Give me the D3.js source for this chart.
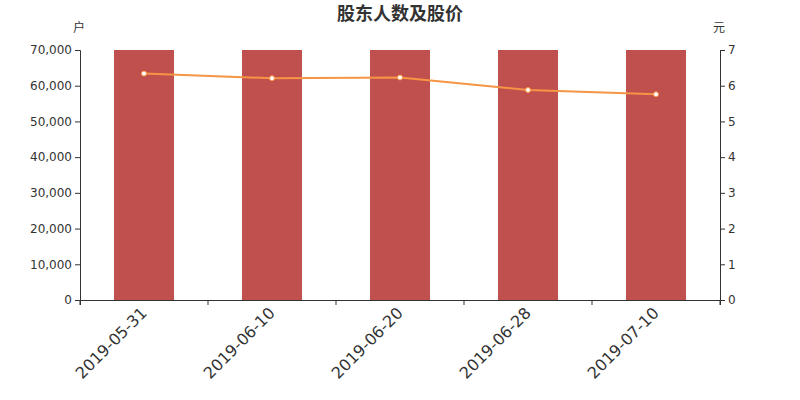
<!DOCTYPE html>
<html><head><meta charset="utf-8">
<script src="https://cdn.jsdelivr.net/npm/d3@7/dist/d3.min.js"></script>
<style>body{margin:0;background:#fff}text{font-family:"DejaVu Sans","Noto Sans CJK SC",sans-serif}</style>
</head><body><svg id="c" width="800" height="400"></svg>
<script>
const categories = ["2019-05-31","2019-06-10","2019-06-20","2019-06-28","2019-07-10"];
const holders = [80000, 80000, 80000, 80000, 80000];
const prices = [6.34, 6.21, 6.23, 5.88, 5.76];
const leftTicks = [0,10000,20000,30000,40000,50000,60000,70000];
const rightTicks = [0,1,2,3,4,5,6,7];

const svg = d3.select("#c");
const m = {l:80, r:720, t:50, b:300};
const x = d3.scaleBand().domain(categories).range([m.l, m.r]).paddingInner(0).paddingOuter(0);
const yL = d3.scaleLinear().domain([0,70000]).range([m.b, m.t]);
const yR = d3.scaleLinear().domain([0,7]).range([m.b, m.t]);

svg.append("defs").append("clipPath").attr("id","clip")
  .append("rect").attr("x",m.l).attr("y",m.t).attr("width",m.r-m.l).attr("height",m.b-m.t);

svg.append("g").attr("clip-path","url(#clip)").selectAll("rect").data(holders).join("rect")
  .attr("x",(d,i)=>x(categories[i])+x.bandwidth()/2-30)
  .attr("width",60)
  .attr("y",d=>yL(d)).attr("height",d=>yL(0)-yL(d))
  .attr("fill","#c0504d");

const ax = svg.append("g").attr("transform",`translate(0,${m.b})`)
  .call(d3.axisBottom(x).tickSize(5).tickFormat(""));
ax.selectAll(".tick").remove();
const bounds = categories.map(c=>x(c)).concat([m.r]);
ax.selectAll("line.b").data(bounds).join("line").attr("class","b")
  .attr("x1",d=>d).attr("x2",d=>d).attr("y1",0).attr("y2",5).attr("stroke","#333");
ax.select(".domain").attr("stroke","#333");
ax.selectAll("text.lab").data(categories).join("text").attr("class","lab")
  .attr("transform",d=>`translate(${x(d)+x.bandwidth()/2+4},${14}) rotate(-45)`)
  .attr("text-anchor","end").attr("font-size",16).attr("fill","#333").text(d=>d);

const gl = svg.append("g").attr("transform",`translate(${m.l},0)`)
  .call(d3.axisLeft(yL).tickValues(leftTicks).tickSize(5).tickFormat(d3.format(",")));
gl.selectAll("text").attr("font-size",12).attr("fill","#333");
gl.selectAll("line,.domain").attr("stroke","#333");

const gr = svg.append("g").attr("transform",`translate(${m.r},0)`)
  .call(d3.axisRight(yR).tickValues(rightTicks).tickSize(5).tickFormat(d3.format("d")));
gr.selectAll("text").attr("font-size",12).attr("fill","#333");
gr.selectAll("line,.domain").attr("stroke","#333");

const cx = (d,i)=>x(categories[i])+x.bandwidth()/2;
svg.append("path").datum(prices)
  .attr("d",d3.line().x(cx).y(d=>yR(d)))
  .attr("fill","none").attr("stroke","#f59545").attr("stroke-width",2);
svg.selectAll("circle.p").data(prices).join("circle").attr("class","p")
  .attr("cx",cx).attr("cy",d=>yR(d)).attr("r",2.5)
  .attr("fill","#fff").attr("stroke","#f59545").attr("stroke-width",1);

svg.append("text").attr("x",400).attr("y",20).attr("text-anchor","middle")
  .attr("font-size",18).attr("font-weight","bold").attr("fill","#333").text("股东人数及股价");
svg.append("text").attr("x",79).attr("y",32).attr("text-anchor","middle")
  .attr("font-size",12).attr("fill","#333").text("户");
svg.append("text").attr("x",719).attr("y",32).attr("text-anchor","middle")
  .attr("font-size",12).attr("fill","#333").text("元");
</script></body></html>
